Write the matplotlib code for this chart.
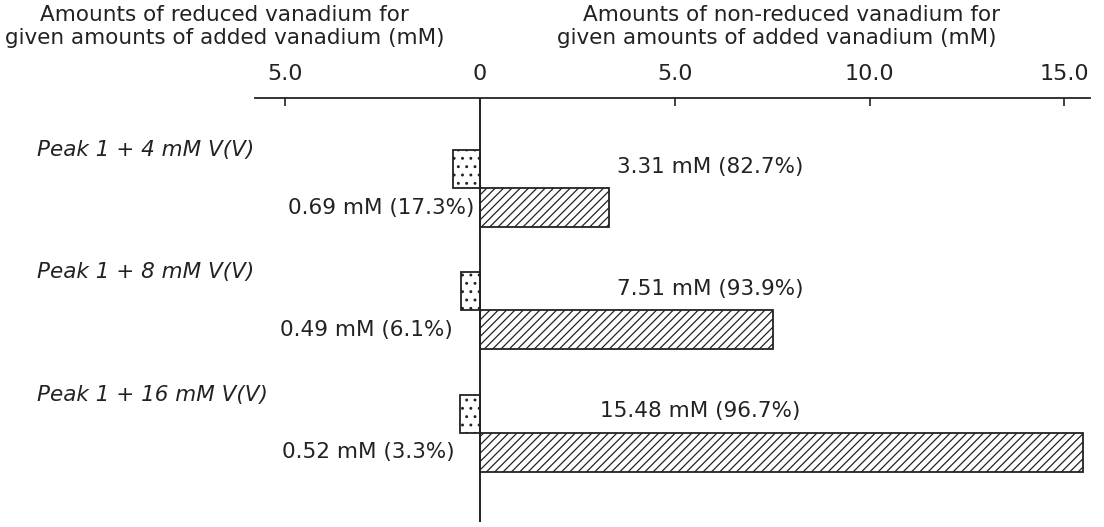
import matplotlib
matplotlib.use("Agg")
import matplotlib.pyplot as plt
import matplotlib.transforms as mtransforms

# vanadium added to peak 1 and how much of it ended up reduced / non-reduced (mM)
groups = ["Peak 1 + 4 mM V(V)", "Peak 1 + 8 mM V(V)", "Peak 1 + 16 mM V(V)"]
reduced = [0.69, 0.49, 0.52]
reduced_pct = [17.3, 6.1, 3.3]
non_reduced = [3.31, 7.51, 15.48]
non_reduced_pct = [82.7, 93.9, 96.7]

tick_pos = [-5, 0, 5, 10, 15]
tick_labels = ["5.0", "0", "5.0", "10.0", "15.0"]

W, H = 1104, 527
ink = "#222222"
plt.rcParams["font.family"] = "DejaVu Sans"
plt.rcParams["hatch.linewidth"] = 0.9
plt.rcParams["hatch.color"] = ink

fig = plt.figure(figsize=(W / 100, H / 100), dpi=100)
ax = fig.add_axes([255 / W, 1 - 522 / H, (1090 - 255) / W, (522 - 98) / H])

h_red = 0.31
h_non = 0.32
ypos = list(range(len(groups)))

for i in ypos:
    ax.barh(i - h_red, -reduced[i], height=h_red, align="edge",
            color="white", edgecolor=ink, hatch="..", linewidth=1.3)
    ax.barh(i, non_reduced[i], height=h_non, align="edge",
            color="white", edgecolor=ink, hatch="////", linewidth=1.3)

ax.axvline(0, color=ink, lw=1.4)

ax.set_xlim(-5.78, 15.66)
ax.set_ylim(2.73, -0.735)

ax.xaxis.tick_top()
ax.set_xticks(tick_pos)
ax.set_xticklabels(tick_labels, fontsize=16, color=ink)
ax.tick_params(axis="x", direction="in", length=6, width=1.2, pad=10,
               colors=ink)
ax.set_yticks([])
for side in ["left", "right", "bottom"]:
    ax.spines[side].set_visible(False)
ax.spines["top"].set_linewidth(1.3)
ax.spines["top"].set_color(ink)

# group labels sit at a fixed figure x, on the bar rows
row = mtransforms.blended_transform_factory(fig.transFigure, ax.transData)
fs = 15.5

left_x = [-0.15, -0.7, -0.65]
right_x = [5.9, 5.9, 5.65]
for i in ypos:
    ax.text(left_x[i], i + h_non / 2, f"{reduced[i]:.2f} mM ({reduced_pct[i]}%)",
            ha="right", va="center", fontsize=fs, color=ink)
    ax.text(right_x[i], i - h_red / 2 - 0.02,
            f"{non_reduced[i]:.2f} mM ({non_reduced_pct[i]}%)",
            ha="center", va="center", fontsize=fs, color=ink)
    ax.text(37 / W, i - h_red, groups[i], transform=row, ha="left",
            va="center", fontsize=fs, style="italic", color=ink)

# axis titles
fig.text(40 / W, 1 - 15 / H, "Amounts of reduced vanadium for",
         ha="left", va="center", fontsize=fs, color=ink)
fig.text(5 / W, 1 - 38 / H, "given amounts of added vanadium (mM)",
         ha="left", va="center", fontsize=fs, color=ink)
fig.text(583 / W, 1 - 15 / H, "Amounts of non-reduced vanadium for",
         ha="left", va="center", fontsize=fs, color=ink)
fig.text(557 / W, 1 - 38 / H, "given amounts of added vanadium (mM)",
         ha="left", va="center", fontsize=fs, color=ink)

fig.savefig("out.png", dpi=100, facecolor="white")
